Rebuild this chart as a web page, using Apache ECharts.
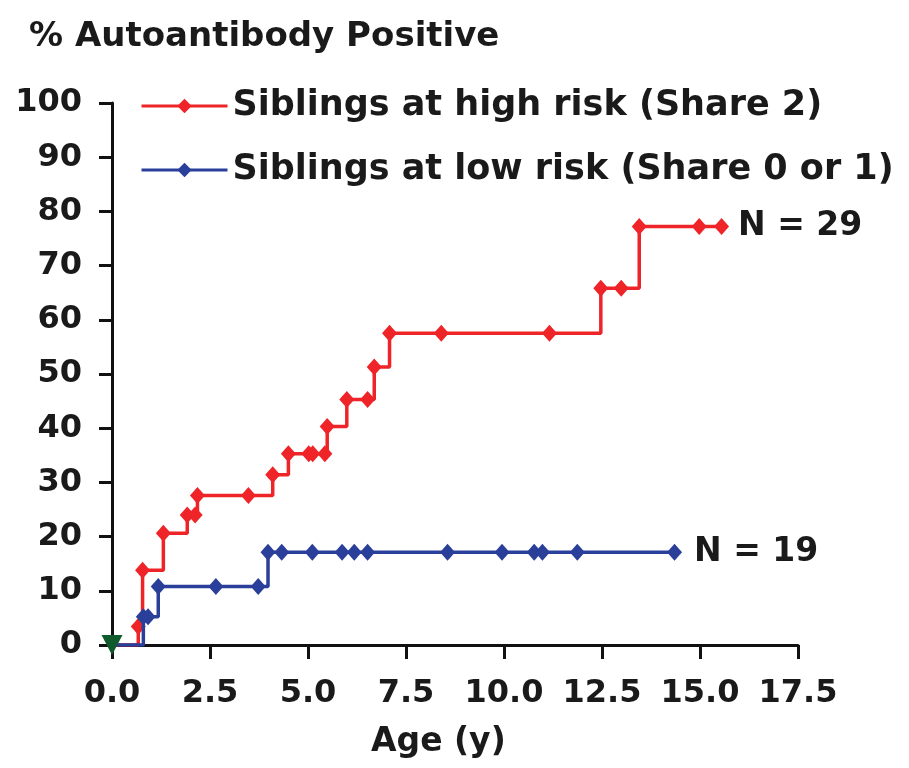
<!DOCTYPE html>
<html>
<head>
<meta charset="utf-8">
<script src="https://cdn.jsdelivr.net/npm/echarts@6/dist/echarts.min.js"></script>
<style>
html,body{margin:0;padding:0;background:#fff;}
#chart{width:909px;height:768px;}
</style>
</head>
<body>
<div id="chart"></div>
<script>
// ---- Data ----
var xTicks = ['0.0','2.5','5.0','7.5','10.0','12.5','15.0','17.5'];
var yTicks = [0,10,20,30,40,50,60,70,80,90,100];

var highRiskName = 'Siblings at high risk (Share 2)';
var highRiskAge = [0, 0.67, 0.78, 1.31, 1.92, 2.12, 2.18, 3.48, 4.10, 4.50, 5.02, 5.12, 5.43, 5.49, 5.99, 6.52, 6.69, 7.08, 8.40, 11.16, 12.47, 12.99, 13.45, 14.98, 15.55];
var highRiskPct = [0, 3.4, 13.8, 20.6, 24.0, 24.0, 27.6, 27.6, 31.4, 35.3, 35.3, 35.3, 35.3, 40.3, 45.3, 45.3, 51.3, 57.5, 57.5, 57.5, 65.8, 65.8, 77.2, 77.2, 77.2];
var highRiskN = 'N = 29';

var lowRiskName = 'Siblings at low risk (Share 0 or 1)';
var lowRiskAge = [0, 0.80, 0.92, 1.18, 2.65, 3.73, 3.98, 4.33, 5.11, 5.87, 6.18, 6.52, 8.56, 9.95, 10.77, 10.98, 11.87, 14.35];
var lowRiskPct = [0, 5.2, 5.2, 10.8, 10.8, 10.8, 17.1, 17.1, 17.1, 17.1, 17.1, 17.1, 17.1, 17.1, 17.1, 17.1, 17.1, 17.1];
var lowRiskN = 'N = 19';

var originMarker = [[0, 0]];

var titleText = '% Autoantibody Positive';
var xAxisTitle = 'Age (y)';

// ---- Styles ----
var RED = '#ee2428';
var BLUE = '#2a3f9a';
var GREEN = '#0f5a2c';
var FONT = '"DejaVu Sans", "Liberation Sans", sans-serif';
var TXT = '#1a1a1a';

function buildSeriesData(ages, pcts, nLabel, labelDist) {
  var out = [];
  for (var i = 0; i < ages.length; i++) {
    var item = { value: [ages[i], pcts[i]] };
    if (i === 0) item.symbol = 'none';
    if (i === ages.length - 1) {
      item.label = {
        show: true, position: 'right', distance: labelDist,
        formatter: nLabel, color: TXT, fontFamily: FONT,
        fontWeight: 'bold', fontSize: 33
      };
    }
    out.push(item);
  }
  return out;
}

var chart = echarts.init(document.getElementById('chart'), null, {renderer: 'canvas'});
chart.setOption({
  backgroundColor: '#ffffff',
  animation: false,
  title: {
    text: titleText, left: 24, top: 15,
    textStyle: {fontFamily: FONT, fontWeight: 'bold', fontSize: 34, color: TXT}
  },
  legend: {
    orient: 'vertical', left: 135, top: 81,
    itemWidth: 86, itemHeight: 18, itemGap: 24,
    lineStyle: {width: 3},
    textStyle: {fontFamily: FONT, fontWeight: 'bold', fontSize: 35, color: TXT, lineHeight: 40},
    data: [highRiskName, lowRiskName]
  },
  grid: {left: 112, right: 111, top: 103, bottom: 123, containLabel: false},
  xAxis: {
    type: 'value', min: 0, max: 17.5, interval: 2.5,
    axisLine: {show: true, onZero: false, lineStyle: {color: '#111', width: 3}},
    axisTick: {show: true, length: 14, lineStyle: {color: '#111', width: 3}},
    axisLabel: {
      margin: 33, fontFamily: FONT, fontWeight: 'bold', fontSize: 32, color: TXT,
      formatter: function (v) { var i = Math.round(v / 2.5); return xTicks[i]; }
    },
    splitLine: {show: false}
  },
  yAxis: {
    type: 'value', min: 0, max: 100, interval: 10,
    axisLine: {show: true, lineStyle: {color: '#111', width: 3}},
    axisTick: {show: true, length: 13, lineStyle: {color: '#111', width: 3}},
    axisLabel: {
      margin: 30, fontFamily: FONT, fontWeight: 'bold', fontSize: 32, color: TXT,
      formatter: function (v) { return String(yTicks[Math.round(v / 10)]); }
    },
    splitLine: {show: false}
  },
  graphic: [{
    type: 'text', left: 371, top: 726,
    style: {text: xAxisTitle, font: 'bold 33px ' + FONT, fill: TXT}
  }],
  series: [
    {
      name: highRiskName, type: 'line', step: 'end',
      data: buildSeriesData(highRiskAge, highRiskPct, highRiskN, 9),
      symbol: 'diamond', symbolSize: [15, 17],
      lineStyle: {color: RED, width: 3.5}, itemStyle: {color: RED},
      z: 3
    },
    {
      name: lowRiskName, type: 'line', step: 'end',
      data: buildSeriesData(lowRiskAge, lowRiskPct, lowRiskN, 12),
      symbol: 'diamond', symbolSize: [15, 17],
      lineStyle: {color: BLUE, width: 3.5}, itemStyle: {color: BLUE},
      z: 4
    },
    {
      name: 'origin', type: 'scatter', data: originMarker,
      symbol: 'triangle', symbolRotate: 180, symbolSize: [21, 20],
      itemStyle: {color: GREEN, opacity: 1}, z: 5, clip: false
    }
  ]
});
</script>
</body>
</html>
